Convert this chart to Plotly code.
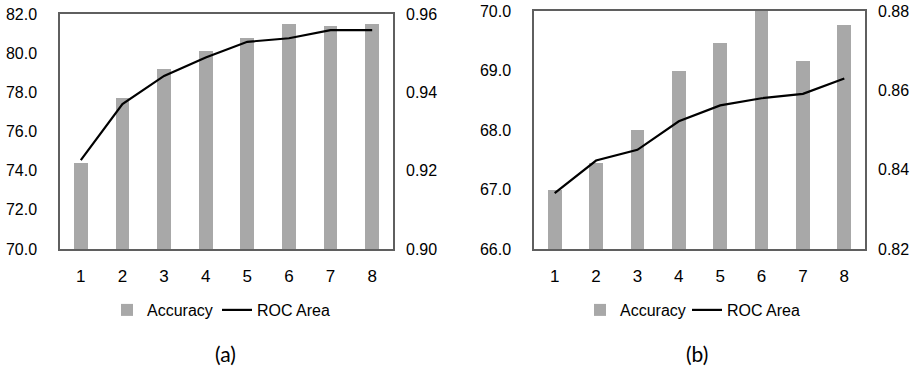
import plotly.graph_objects as go

# Feature-set index shared by both panels
categories = ["1", "2", "3", "4", "5", "6", "7", "8"]

# Panel (a)
accuracy_a = [74.4, 77.7, 79.2, 80.1, 80.8, 81.5, 81.4, 81.5]
roc_a = [0.9227, 0.9370, 0.9442, 0.9489, 0.9529, 0.9538, 0.9559, 0.9559]

# Panel (b)
accuracy_b = [67.0, 67.45, 68.0, 69.0, 69.46, 70.0, 69.16, 69.76]
roc_b = [0.8341, 0.8423, 0.8450, 0.8522, 0.8562, 0.8580, 0.8591, 0.8630]

left_ticks_a = [70, 72, 74, 76, 78, 80, 82]
right_ticks_a = [0.90, 0.92, 0.94, 0.96]
left_ticks_b = [66, 67, 68, 69, 70]
right_ticks_b = [0.82, 0.84, 0.86, 0.88]

W, H = 919, 370
BAR = "#a8a8a8"
FRAME = "#5f5f5f"
FONT = "Liberation Sans"

fig = go.Figure()

# each series gets its own legend box so the entries can sit side by side under each panel
fig.add_trace(go.Bar(x=categories, y=accuracy_a, name="Accuracy", marker_color=BAR,
                     marker_line_width=0, width=0.33, xaxis="x", yaxis="y",
                     legend="legend", showlegend=True))
fig.add_trace(go.Scatter(x=categories, y=roc_a, name="ROC Area", mode="lines",
                         line=dict(color="black", width=2.2), xaxis="x", yaxis="y2",
                         legend="legend2", showlegend=True))
fig.add_trace(go.Bar(x=categories, y=accuracy_b, name="Accuracy", marker_color=BAR,
                     marker_line_width=0, width=0.33, xaxis="x2", yaxis="y3",
                     legend="legend3", showlegend=True))
fig.add_trace(go.Scatter(x=categories, y=roc_b, name="ROC Area", mode="lines",
                         line=dict(color="black", width=2.2), xaxis="x2", yaxis="y4",
                         legend="legend4", showlegend=True))


def px_x(v):
    return v / W


def px_y(v):
    return 1 - v / H


y_tick_font = dict(family=FONT, size=16, color="black")
x_tick_font = dict(family=FONT, size=17, color="black")

common_x = dict(type="category", showgrid=False, ticks="", showline=True, mirror=True,
                linecolor=FRAME, linewidth=1.5, tickfont=x_tick_font, ticklabelstandoff=11,
                range=[-0.5, 7.5], fixedrange=True, automargin=False, zeroline=False)
common_yl = dict(showgrid=False, ticks="", showline=True, mirror=True, linecolor=FRAME,
                 linewidth=1.5, tickfont=y_tick_font, ticklabelstandoff=18, zeroline=False,
                 tickformat=".1f", automargin=False, fixedrange=True)
common_yr = dict(showgrid=False, ticks="", showline=False, tickfont=y_tick_font, side="right",
                 ticklabelstandoff=12, zeroline=False, tickformat=".2f", automargin=False,
                 fixedrange=True)


def legend_box(x_px):
    return dict(orientation="h", x=px_x(x_px), y=px_y(310), xanchor="left",
                yanchor="middle", font=dict(family=FONT, size=16, color="black"),
                bgcolor="rgba(0,0,0,0)", borderwidth=0, visible=True)


fig.update_layout(
    template="none",
    showlegend=True,
    width=W, height=H,
    margin=dict(l=0, r=0, t=0, b=0, autoexpand=False),
    paper_bgcolor="white", plot_bgcolor="white",
    bargap=0,
    xaxis=dict(domain=[px_x(60), px_x(393)], anchor="y", **common_x),
    yaxis=dict(domain=[px_y(249), px_y(14)], anchor="x", range=[70, 82],
               tickvals=left_ticks_a, **common_yl),
    yaxis2=dict(overlaying="y", anchor="x", range=[0.90, 0.96], tickvals=right_ticks_a,
                **common_yr),
    xaxis2=dict(domain=[px_x(534), px_x(865)], anchor="y3", **common_x),
    yaxis3=dict(domain=[px_y(249), px_y(11)], anchor="x2", range=[66, 70],
                tickvals=left_ticks_b, **common_yl),
    yaxis4=dict(overlaying="y3", anchor="x2", range=[0.82, 0.88], tickvals=right_ticks_b,
                **common_yr),
    legend=legend_box(107),
    legend2=legend_box(217),
    legend3=legend_box(580),
    legend4=legend_box(687),
    annotations=[
        dict(text="(a)", x=px_x(225), y=px_y(353), xref="paper", yref="paper",
             xanchor="center", yanchor="middle", showarrow=False,
             font=dict(family="Lato", size=21, color="black")),
        dict(text="(b)", x=px_x(697), y=px_y(353), xref="paper", yref="paper",
             xanchor="center", yanchor="middle", showarrow=False,
             font=dict(family="Lato", size=21, color="black")),
    ],
)

fig.write_html("out.html")
